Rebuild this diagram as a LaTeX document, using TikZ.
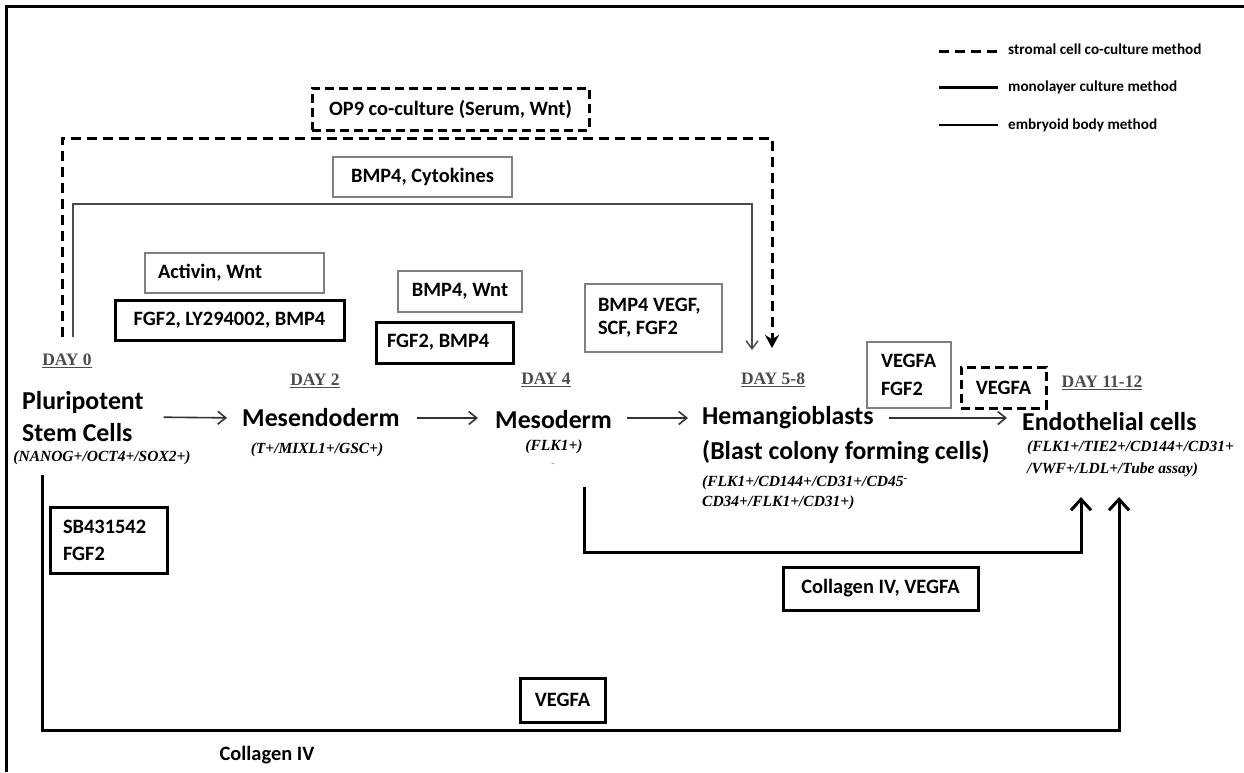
\documentclass[tikz,border=0pt]{standalone}
\usepackage{fontspec}
\setmainfont{Carlito}
\newfontfamily\markfont{Liberation Serif}
\usepackage{tikz}
\usetikzlibrary{arrows.meta}

\begin{document}
\begin{tikzpicture}[x=1pt,y=-1pt,
  every node/.style={inner sep=0pt,font=\bfseries\fontsize{20.4}{25}\selectfont},
  stage/.style={font=\bfseries\fontsize{25.8}{32}\selectfont},
  marker/.style={font=\markfont\bfseries\itshape\fontsize{15.5}{20}\selectfont},
  day/.style={font=\markfont\bfseries\fontsize{17.5}{20}\selectfont,text=black!70},
  legend/.style={font=\bfseries\fontsize{15.2}{18}\selectfont},
  thinbox/.style={draw=black!50,line width=1.8pt},
  thickbox/.style={draw=black,line width=3pt},
  dashbox/.style={draw=black,line width=3pt,dash pattern=on 9pt off 5pt},
  stromal/.style={line width=3pt,dash pattern=on 10pt off 6pt},
  monolayer/.style={line width=3pt},
  embryoid/.style={line width=1.5pt,draw=black!70},
  stagearrow/.style={line width=1.6pt,draw=black!80,-{Straight Barb[length=8pt,width=13pt]}}]
\useasboundingbox (0,0) rectangle (1244,772);
% frame
\draw[line width=2.5pt] (6.5,772) -- (6.5,6.5) -- (1244,6.5);

% legend
\draw[stromal] (939,51) -- (998,51);
\node[legend,anchor=west] (legstromal) at (1008,49) {stromal cell co-culture method};
\draw[monolayer] (939,87) -- (998,87);
\node[legend,anchor=west] (legmono) at (1008,87) {monolayer culture method};
\draw[line width=1.3pt] (939,125) -- (998,125);
\node[legend,anchor=west] (legeb) at (1008,125) {embryoid body method};

% factor boxes
\node[dashbox,minimum width=277,minimum height=42] (op9) at (450.5,109) {OP9 co-culture (Serum, Wnt)};
\node[thinbox,minimum width=179,minimum height=40] (bmpcyto) at (422.5,177) {BMP4, Cytokines};
\node[thinbox,inner xsep=13pt,text width=153pt,align=flush left,minimum height=40] (activin) at (234.5,273) {Activin, Wnt};
\node[thickbox,minimum width=229,minimum height=40] (fgfly) at (229.5,320) {FGF2, LY294002, BMP4};
\node[thinbox,minimum width=124,minimum height=41] (bmpwnt) at (460,291.5) {BMP4, Wnt};
\node[thickbox,inner xsep=11pt,text width=115pt,align=flush left,minimum height=41] (fgfbmp) at (444.5,342.5) {FGF2, BMP4};
\node[thinbox,inner xsep=13pt,text width=111pt,align=flush left,minimum height=68,font=\bfseries\fontsize{20.4}{23}\selectfont] (bmpvegf) at (653.5,318) {BMP4 VEGF,\\SCF, FGF2};
\node[thinbox,inner xsep=14pt,text width=56pt,align=flush left,minimum height=66,font=\bfseries\fontsize{20.4}{28}\selectfont] (vegffgf) at (909,375) {VEGFA\\FGF2};
\node[dashbox,minimum width=85,minimum height=41] (vegfadash) at (1003.5,387.5) {VEGFA};
\node[thickbox,inner xsep=13pt,text width=91pt,align=flush left,minimum height=66,font=\bfseries\fontsize{20.4}{27}\selectfont] (sbfgf) at (108.5,540) {SB431542\\FGF2};
\node[thickbox,minimum width=195,minimum height=43] (colvegf) at (880.5,588.5) {Collagen IV, VEGFA};
\node[thickbox,minimum width=85,minimum height=44] (vegfab) at (562.5,700) {VEGFA};
\node (collagen) at (267,755) {Collagen IV};

% days
\node[day] (day0) at (67,361) {\underline{DAY 0}};
\node[day] (day2) at (315,381) {\underline{DAY 2}};
\node[day] (day4) at (546,380) {\underline{DAY 4}};
\node[day] (day58) at (773,380) {\underline{DAY 5-8}};
\node[day] (day1112) at (1102,383) {\underline{DAY 11-12}};

% stages
\node[stage,anchor=west,align=left] (pluri) at (22,417) {Pluripotent\\Stem Cells};
\node[stage,anchor=west] (mesendo) at (242,418) {Mesendoderm};
\node[stage,anchor=west] (meso) at (495,420) {Mesoderm};
\node[stage,anchor=west] (hemang) at (702,418) {Hemangioblasts};
\node[stage,anchor=west] (blast) at (702,452) {(Blast colony forming cells)};
\node[stage,anchor=west] (endo) at (1022,422) {Endothelial cells};

% markers
\node[marker] (nanog) at (102,458) {(NANOG+/OCT4+/SOX2+)};
\node[marker] (tmixl) at (317,450) {(T+/MIXL1+/GSC+)};
\node[marker] (flk) at (554,447) {(FLK1+)};
\node[marker,text=black!40,font=\markfont\bfseries\fontsize{10}{10}\selectfont] (dot) at (553,465) {-};
\node[marker,anchor=west,align=left] (hemmark) at (702,493) {(FLK1+/CD144+/CD31+/CD45\textsuperscript{-}\\CD34+/FLK1+/CD31+)};
\node[marker,anchor=west,align=left,font=\markfont\bfseries\itshape\fontsize{15.5}{22}\selectfont] (endomark) at (1027,459) {(FLK1+/TIE2+/CD144+/CD31+\\/VWF+/LDL+/Tube assay)};

% stage arrows
\draw[stagearrow,shorten <=20pt,shorten >=15pt] (pluri.east) -- (mesendo.west);
\draw[stagearrow,shorten <=17pt,shorten >=17pt] (mesendo.east) -- (mesendo.east -| meso.west);
\draw[stagearrow,shorten <=15pt,shorten >=14pt] (meso.east |- hemang.west) -- (hemang.west);
\draw[stagearrow,shorten <=15pt,shorten >=15pt] (hemang.east) -- (hemang.east -| endo.west);

% method routes
\coordinate (stromalin) at (62,337);
\coordinate (stromalout) at (772,348);
\draw[stromal,-{Stealth[length=13pt,width=14pt]}] (stromalin) -- ++(0,-199) -| (stromalout);
\coordinate (ebin) at (73,337);
\coordinate (ebout) at (752,350);
\draw[embryoid,-{Straight Barb[length=8pt,width=12pt]}] (ebin) -- ++(0,-133) -| (ebout);
\coordinate (mesoout) at (584,487);
\coordinate (endoinA) at (1081,497);
\draw[monolayer,-{Straight Barb[length=11pt,width=20pt]}] (mesoout) -- ++(0,65) -| (endoinA);
\coordinate (pluriout) at (42,475);
\coordinate (endoinB) at (1119,497);
\draw[monolayer,-{Straight Barb[length=11pt,width=20pt]}] (pluriout) -- ++(0,255) -| (endoinB);
\end{tikzpicture}
\end{document}
